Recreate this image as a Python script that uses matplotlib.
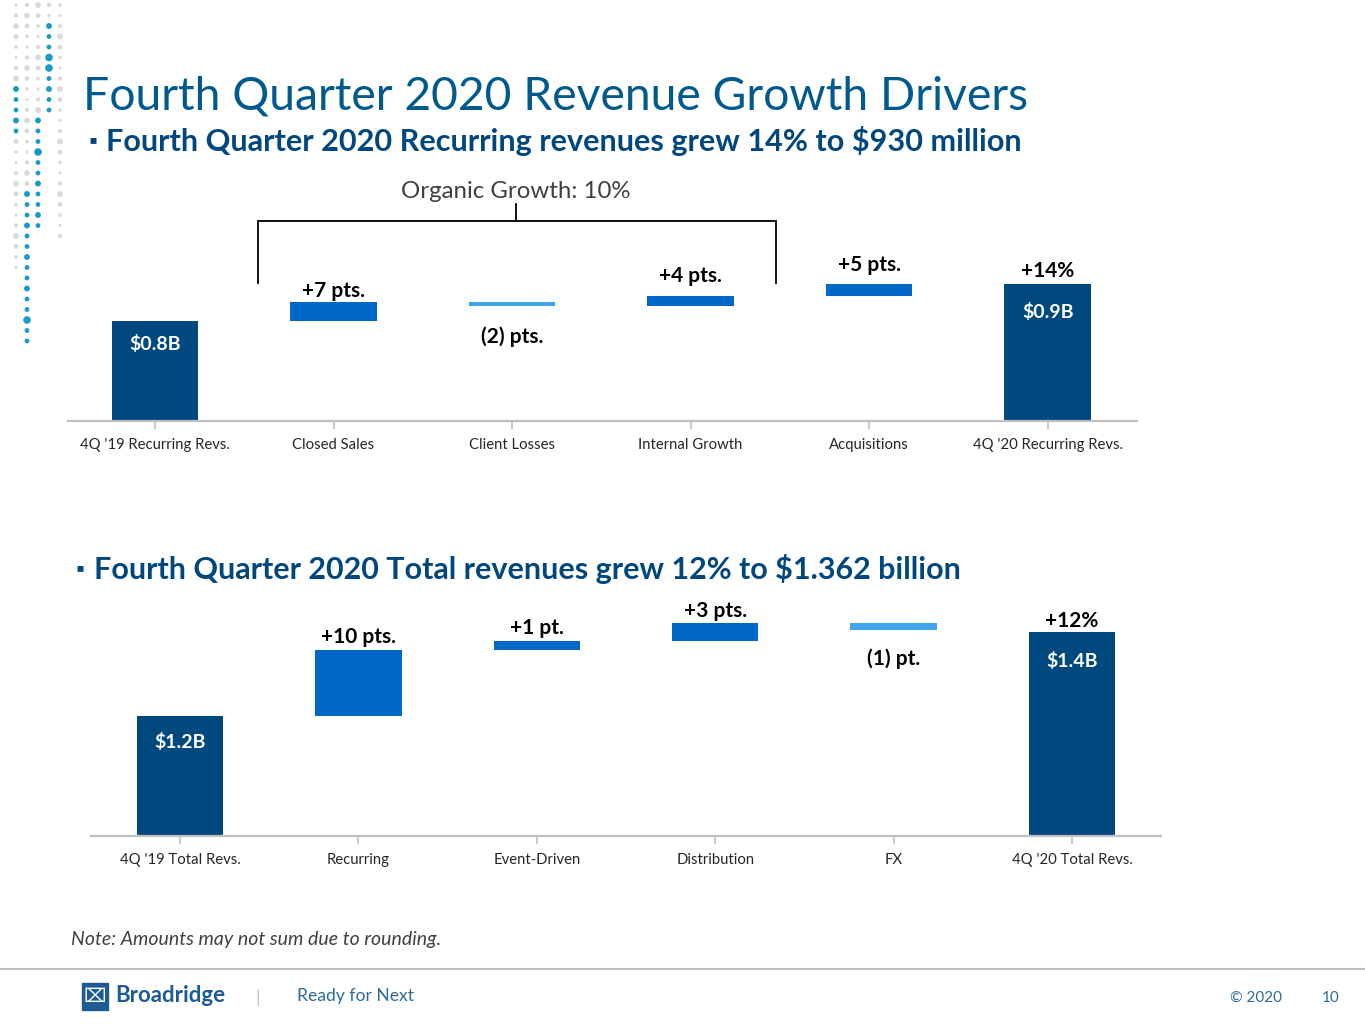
import matplotlib
matplotlib.use("Agg")
import matplotlib.pyplot as plt
import numpy as np

plt.rcParams['font.family'] = ['Lato', 'DejaVu Sans']

# ---------------- data ----------------
top_categories = ["4Q '19 Recurring Revs.", "Closed Sales", "Client Losses",
                  "Internal Growth", "Acquisitions", "4Q '20 Recurring Revs."]
top_start = 100          # display units (truncated axis)
top_deltas = [19, -4, 10, 12]
top_end = 137
top_labels = ["$0.8B", "+7 pts.", "(2) pts.", "+4 pts.", "+5 pts.", "+14%"]
top_end_inner = "$0.9B"

bot_categories = ["4Q '19 Total Revs.", "Recurring", "Event-Driven",
                  "Distribution", "FX", "4Q '20 Total Revs."]
bot_start = 120
bot_deltas = [66, 9, 18, -7]
bot_end = 204
bot_labels = ["$1.2B", "+10 pts.", "+1 pt.", "+3 pts.", "(1) pt.", "+12%"]
bot_end_inner = "$1.4B"

# ---------------- styles ----------------
NAVY = "#00497F"
MID = "#0068C9"
LIGHT = "#41A6EE"
TITLE_C = "#005A8F"
SUB_C = "#00467F"
GRAY_AX = "#BFBFBF"
TXT = "#262626"

W, H = 1365, 1024
fig = plt.figure(figsize=(W / 100, H / 100), dpi=100)
fig.patch.set_facecolor("white")


def fx(px):
    return px / W


def fy(py):
    return 1 - py / H


def waterfall(ax, cats, start, deltas, end, labels, end_inner, offs, ylim, xlim):
    n = len(cats)
    x = np.arange(n)
    levels = np.concatenate([[start], start + np.cumsum(deltas)])
    bottoms = [0]
    heights = [start]
    colors = [NAVY]
    for i, d in enumerate(deltas):
        lo = min(levels[i], levels[i + 1])
        bottoms.append(lo)
        heights.append(abs(d))
        colors.append(MID if d >= 0 else LIGHT)
    bottoms.append(0)
    heights.append(end)
    colors.append(NAVY)
    ax.bar(x, heights, bottom=bottoms, width=0.485, color=colors, zorder=2)

    # labels
    ax.text(x[0], start + offs[0], labels[0], ha="center", va="center",
            color="white", fontsize=14, fontweight="bold")
    for i, d in enumerate(deltas):
        if d >= 0:
            yy = max(levels[i], levels[i + 1]) + offs[i + 1]
        else:
            yy = min(levels[i], levels[i + 1]) + offs[i + 1]
        ax.text(x[i + 1], yy, labels[i + 1], ha="center", va="center",
                color="black", fontsize=15, fontweight="bold")
    ax.text(x[-1], end + offs[-2], labels[-1], ha="center", va="center",
            color="black", fontsize=15, fontweight="bold")
    ax.text(x[-1], end + offs[-1], end_inner, ha="center", va="center",
            color="white", fontsize=14, fontweight="bold")

    ax.set_xlim(*xlim)
    ax.set_ylim(*ylim)
    ax.set_xticks(x)
    ax.set_xticklabels(cats, fontsize=10.7, color=TXT)
    ax.set_yticks([])
    for s in ["top", "right", "left"]:
        ax.spines[s].set_visible(False)
    ax.spines["bottom"].set_color(GRAY_AX)
    ax.spines["bottom"].set_linewidth(1.6)
    ax.tick_params(axis="x", length=6, width=1.2, color=GRAY_AX, pad=6)
    ax.patch.set_alpha(0)


# top chart
ax1 = fig.add_axes([fx(68), fy(421), fx(1137 - 68), (421 - 170) / H])
waterfall(ax1, top_categories, top_start, top_deltas, top_end, top_labels,
          top_end_inner, [-23, 11, -31, 20, 19, 13, -28], (0, 251), (-0.487, 5.5))

# organic growth bracket
bx0, bx1, bxm = 0.577, 3.477, 2.02
ax1.plot([bx0, bx0, bx1, bx1], [138, 200, 200, 138], color="black", lw=1.3,
         clip_on=False, solid_joinstyle="miter")
ax1.plot([bxm, bxm], [200, 217], color="black", lw=1.3, clip_on=False)
ax1.text(bxm, 230, "Organic Growth: 10%", ha="center", va="center",
         fontsize=17.3, color="#404040")

# bottom chart
ax2 = fig.add_axes([fx(91), fy(836), fx(1161 - 91), (836 - 600) / H])
waterfall(ax2, bot_categories, bot_start, bot_deltas, bot_end, bot_labels,
          bot_end_inner, [-26, 13, 13, 12, -29, 11, -29], (0, 236), (-0.499, 5.499))

# ---------------- titles ----------------
fig.text(fx(83), fy(96), "Fourth Quarter 2020 Revenue Growth Drivers",
         fontsize=33.3, color=TITLE_C, va="center", ha="left")
fig.text(fx(88), fy(141), "\u25aa", fontsize=16, color=SUB_C, va="center", ha="left")
fig.text(fx(106), fy(141), "Fourth Quarter 2020 Recurring revenues grew 14% to $930 million",
         fontsize=22.1, color=SUB_C, fontweight="bold", va="center", ha="left")
fig.text(fx(75), fy(569), "\u25aa", fontsize=16, color=SUB_C, va="center", ha="left")
fig.text(fx(94), fy(569), "Fourth Quarter 2020 Total revenues grew 12% to $1.362 billion",
         fontsize=22.0, color=SUB_C, fontweight="bold", va="center", ha="left")

# note
fig.text(fx(71), fy(940), "Note: Amounts may not sum due to rounding.",
         fontsize=14, style="italic", color="#404040", va="center", ha="left")

# footer
fig.add_artist(plt.Line2D([0, 1], [fy(969), fy(969)], color="#BFBFBF", lw=1.5))
fig.add_artist(plt.Rectangle((fx(82), fy(1010)), fx(26), 27 / H, color="#1E5B94"))
fig.text(fx(95), fy(996), "\u2327", fontsize=14, color="white", ha="center", va="center",
         family=["DejaVu Sans"])
fig.text(fx(115), fy(996), "Broadridge", fontsize=16, fontweight="bold", color="#1E5B94",
         va="center", ha="left")
fig.text(fx(258), fy(998), "|", fontsize=13, color="#BFBFBF", va="center", ha="center")
fig.text(fx(297), fy(996), "Ready for Next", fontsize=12.6, color="#2C6A9A",
         va="center", ha="left")
fig.text(fx(1230), fy(998), "\u00a9 2020", fontsize=11, color="#2C6A9A", va="center", ha="left")
fig.text(fx(1322), fy(998), "10", fontsize=11, color="#2C6A9A", va="center", ha="left")

# ---------------- decorative dots ----------------
dot_cols = [16, 27, 38, 49, 60]
row_step = 10.5
teal_runs = {0: (8, 12), 1: (18, 32), 2: (11, 21), 3: (2, 10)}
gray_runs = {0: (0, 25), 1: (0, 17), 2: (0, 10), 3: (0, 1), 4: (0, 22)}
big_rows = {3: [5, 6], 2: [14], 1: [30]}
xs, ys, ss, cs = [], [], [], []
for ci, cx in enumerate(dot_cols):
    for r in range(33):
        yy = 5 + r * row_step
        tr = teal_runs.get(ci)
        gr = gray_runs.get(ci)
        if tr and tr[0] <= r <= tr[1]:
            size = 30 if r in big_rows.get(ci, []) else (12 if (r - tr[0]) % 3 else 18)
            xs.append(fx(cx)); ys.append(fy(yy)); ss.append(size); cs.append("#1A9AC9")
        elif gr and gr[0] <= r <= gr[1]:
            size = [5, 10, 18, 12, 7][(r + ci) % 5]
            xs.append(fx(cx)); ys.append(fy(yy)); ss.append(size); cs.append("#DADADA")
dot_ax = fig.add_axes([0, 0, 1, 1], zorder=-1)
dot_ax.set_xlim(0, 1)
dot_ax.set_ylim(0, 1)
dot_ax.axis("off")
dot_ax.scatter(xs, ys, s=ss, c=cs, linewidths=0)

fig.savefig("out.png", dpi=100, facecolor="white")
